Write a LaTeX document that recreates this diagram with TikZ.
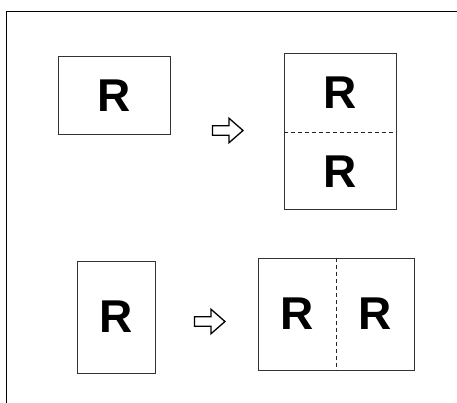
\documentclass[tikz,border=0pt]{standalone}
\usepackage{fontspec}
\setmainfont{Liberation Sans}
\usepackage{tikz}
\usetikzlibrary{calc}

\tikzset{
  sheet/.style={draw=black!80, line width=1pt, inner sep=0pt},
  letter/.style={font=\fontsize{46}{46}\selectfont\bfseries, inner sep=0pt},
  fold/.style={draw=black!85, line width=0.9pt, dash pattern=on 4pt off 3pt},
  hollow/.style={draw=black, line width=1.3pt, line join=miter, fill=white}
}

\begin{document}
\begin{tikzpicture}[x=1pt, y=-1pt]
  \useasboundingbox (0,0) rectangle (457,403);
  % frame, open at right and bottom
  \draw[line width=1pt] (6.5,403) -- (6.5,11.5) -- (457,11.5);

  % landscape original -> two halves stacked
  \node[sheet, minimum width=112pt, minimum height=78pt] (orgA) at (114,96) {};
  \node[letter] (rA) at (orgA.center) {R};
  \node[sheet, minimum width=112pt, minimum height=156pt] (outA) at (340,132) {};
  \draw[fold] (outA.west) -- (outA.east);
  \node[letter] (rA1) at ($(outA.north)!0.25!(outA.south)$) {R};
  \node[letter] (rA2) at ($(outA.north)!0.75!(outA.south)$) {R};

  % portrait original -> two halves side by side
  \node[sheet, minimum width=78pt, minimum height=112pt] (orgB) at (116,317) {};
  \node[letter] (rB) at (orgB.center) {R};
  \node[sheet, minimum width=156pt, minimum height=112pt] (outB) at (336,314) {};
  \draw[fold] (outB.north) -- (outB.south);
  \node[letter] (rB1) at ($(outB.west)!0.25!(outB.east)$) {R};
  \node[letter] (rB2) at ($(outB.west)!0.75!(outB.east)$) {R};

  % hollow arrows
  \foreach \x/\y in {212.5/130.5, 194.5/321.5} {
    \draw[hollow] (\x,\y) ++(0,-4.75) -- ++(16.5,0) -- ++(0,-7.5) -- ++(14,12.25)
      -- ++(-14,12.25) -- ++(0,-7.5) -- ++(-16.5,0) -- cycle;
  }
\end{tikzpicture}
\end{document}
